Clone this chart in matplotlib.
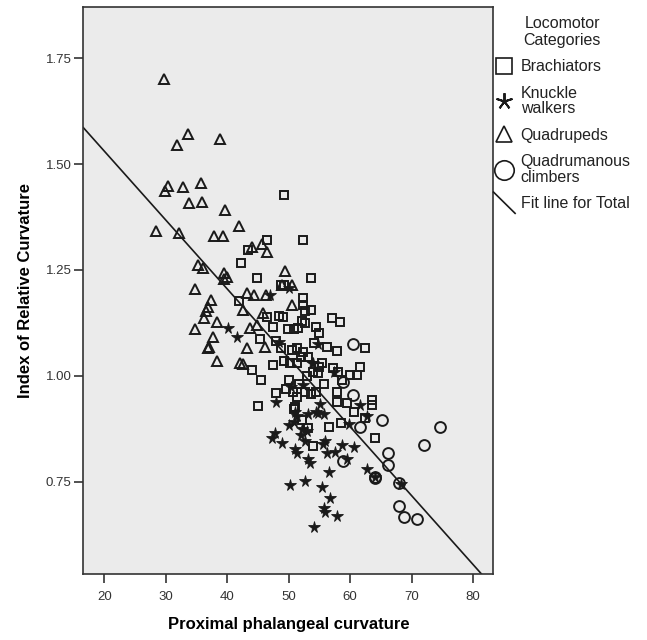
import matplotlib
matplotlib.use("Agg")
import matplotlib.pyplot as plt
from matplotlib.lines import Line2D
from matplotlib.legend_handler import HandlerBase
import numpy as np

# ---------------- data ----------------
quad_x = [29.7, 33.6, 31.8, 38.8, 30.4, 29.9, 32.8, 35.8, 33.8, 35.9, 39.6, 28.5, 32.1, 37.8, 39.3,
          42.0, 35.3, 36.1, 39.5, 39.5, 39.9, 34.75, 37.35, 36.9, 36.6, 36.2, 34.75, 38.3, 37.7, 37.0,
          36.8, 38.4, 42.1, 42.5, 43.2, 46.1, 43.7, 45.9, 42.6, 43.2, 44.1, 45.6, 46.4, 49.4, 50.5,
          50.6, 44.3, 46.3, 48.9, 44.8]
quad_y = [1.700, 1.570, 1.546, 1.560, 1.447, 1.436, 1.445, 1.455, 1.409, 1.410, 1.392, 1.343, 1.336, 1.330, 1.330,
          1.353, 1.262, 1.254, 1.242, 1.228, 1.233, 1.204, 1.179, 1.163, 1.152, 1.137, 1.110, 1.128, 1.092, 1.069,
          1.066, 1.036, 1.030, 1.028, 1.065, 1.069, 1.112, 1.148, 1.156, 1.195, 1.305, 1.310, 1.293, 1.247, 1.214,
          1.166, 1.190, 1.190, 1.214, 1.120]

brach_x = [49.2, 52.4, 46.4, 43.4, 42.2, 44.8, 53.6, 48.7, 49.3, 52.3, 52.4, 53.7, 52.6, 41.9, 46.5,
           48.4, 49.1, 47.4, 49.9, 50.9, 51.6, 52.1, 52.7, 54.5, 54.9, 57.1, 58.3, 45.4, 47.9, 48.7,
           50.5, 51.3, 54.1, 56.2, 57.9, 62.4, 47.5, 49.3, 50.3, 51.3, 52.4, 53.1, 52.0, 54.9, 54.8,
           57.2, 58.1, 60.0, 61.2, 61.6, 44.0, 45.5, 45.0, 47.9, 49.5, 50.7, 51.7, 51.4, 52.7, 53.7,
           54.4, 55.8, 57.8, 57.8, 59.5, 60.7, 63.5, 63.6, 62.5, 58.5, 51.1, 50.9, 52.1, 53.1, 56.5,
           64.0, 53.9, 58.6, 53.0, 54.0, 55.5, 50.0]
brach_y = [1.426, 1.320, 1.320, 1.297, 1.266, 1.230, 1.231, 1.214, 1.214, 1.183, 1.167, 1.156, 1.154, 1.176, 1.138,
           1.140, 1.138, 1.116, 1.110, 1.110, 1.112, 1.130, 1.125, 1.116, 1.100, 1.136, 1.126, 1.087, 1.082, 1.065,
           1.060, 1.065, 1.077, 1.069, 1.059, 1.065, 1.026, 1.035, 1.031, 1.030, 1.055, 1.045, 1.045, 1.020, 1.006,
           1.018, 1.010, 1.002, 1.002, 1.020, 1.013, 0.991, 0.928, 0.960, 0.969, 0.962, 0.980, 0.950, 0.962, 0.958,
           0.962, 0.981, 0.962, 0.938, 0.936, 0.914, 0.943, 0.932, 0.900, 0.888, 0.927, 0.922, 0.895, 0.876, 0.879,
           0.854, 0.834, 0.990, 1.000, 1.010, 1.030, 0.990]

knuck_x = [40.1, 41.6, 47.0, 50.0, 48.0, 50.4, 52.4, 55.1, 57.3, 51.1, 51.3, 50.1, 50.8, 52.1, 53.1,
           54.8, 55.8, 47.7, 47.3, 49.0, 51.1, 51.3, 52.7, 53.1, 53.5, 55.9, 55.6, 56.3, 57.5, 58.6,
           59.5, 60.6, 61.6, 62.8, 62.7, 50.3, 52.6, 55.4, 56.6, 56.8, 55.8, 55.9, 57.8, 54.2, 54.0,
           53.8, 54.7, 48.5, 53.0, 64.0, 68.2, 52.0, 54.4, 59.8]
knuck_y = [1.112, 1.091, 1.191, 1.207, 0.938, 0.974, 0.979, 0.933, 1.008, 0.914, 0.904, 0.885, 0.890, 0.875, 0.909,
           0.912, 0.909, 0.866, 0.852, 0.842, 0.828, 0.818, 0.847, 0.804, 0.794, 0.847, 0.840, 0.818, 0.820, 0.837,
           0.804, 0.833, 0.930, 0.905, 0.780, 0.743, 0.751, 0.737, 0.773, 0.711, 0.689, 0.679, 0.669, 0.643, 1.030,
           1.030, 1.075, 1.080, 0.870, 0.760, 0.745, 0.860, 0.915, 0.886]

climb_x = [60.5, 60.4, 58.8, 65.2, 61.6, 74.6, 72.1, 66.2, 66.2, 58.8, 64.1, 64.0, 68.0, 68.0, 68.7, 70.9]
climb_y = [1.075, 0.955, 0.986, 0.895, 0.880, 0.880, 0.837, 0.818, 0.789, 0.799, 0.759, 0.762, 0.746, 0.693, 0.666, 0.663]

fit_intercept = 1.856
fit_slope = -0.01627

x_ticks = [20, 30, 40, 50, 60, 70, 80]
y_ticks = [0.75, 1.00, 1.25, 1.50, 1.75]
legend_labels = ["Brachiators", "Knuckle\nwalkers", "Quadrupeds", "Quadrumanous\nclimbers", "Fit line for Total"]

# ---------------- figure ----------------
plt.rcParams['font.family'] = ['Liberation Sans', 'DejaVu Sans']
fig = plt.figure(figsize=(6.47, 6.40), dpi=100)
ax = fig.add_axes([0.1288, 0.1031, 0.6337, 0.8855])
ax.set_facecolor('#ebebeb')

XMIN, XMAX = 16.6, 83.3
YMIN, YMAX = 0.532, 1.870

ink = '#1a1a1a'
ax.plot(brach_x, brach_y, ls='none', marker='s', ms=5.3, mfc='none', mec=ink, mew=1.4)
ax.plot(quad_x, quad_y, ls='none', marker='^', ms=6.8, mfc='none', mec=ink, mew=1.4)
ax.plot(knuck_x, knuck_y, ls='none', marker='*', ms=8.5, mfc=ink, mec=ink, mew=0.6)
ax.plot(climb_x, climb_y, ls='none', marker='o', ms=7.8, mfc='none', mec=ink, mew=1.4)

xs = np.array([XMIN, XMAX])
ax.plot(xs, fit_intercept + fit_slope * xs, color=ink, lw=1.2)

ax.set_xlim(XMIN, XMAX)
ax.set_ylim(YMIN, YMAX)
ax.set_xticks(x_ticks)
ax.set_yticks(y_ticks)
ax.set_yticklabels([f"{v:.2f}" for v in y_ticks])
ax.tick_params(direction='out', length=6.5, width=1.2, color='#333333', labelsize=9.5,
               labelcolor='#333333')
ax.tick_params(axis='x', pad=6)
ax.tick_params(axis='y', pad=2)
for s in ax.spines.values():
    s.set_color('#333333')
    s.set_linewidth(1.2)

ax.set_xlabel("Proximal phalangeal curvature", fontsize=12, fontweight='bold', labelpad=10)
ax.set_ylabel("Index of Relative Curvature", fontsize=12, fontweight='bold', labelpad=9)


class DiagHandler(HandlerBase):
    def create_artists(self, legend, orig_handle, xdescent, ydescent, width, height, fontsize, trans):
        line = Line2D([-xdescent, -xdescent + width],
                      [-ydescent + height * 1.45, -ydescent - height * 0.45],
                      color=ink, lw=1.2, transform=trans)
        return [line]


class FitHandle:
    pass


handles = [
    Line2D([], [], ls='none', marker='s', ms=12, mfc='none', mec=ink, mew=1.2),
    Line2D([], [], ls='none', marker=(5, 2, 0), ms=12, mec=ink, mew=1.4),
    Line2D([], [], ls='none', marker='^', ms=11, mfc='none', mec=ink, mew=1.2),
    Line2D([], [], ls='none', marker='o', ms=14, mfc='none', mec=ink, mew=1.2),
    FitHandle(),
]
leg = ax.legend(handles, legend_labels, title="Locomotor\nCategories",
                loc='upper left', bbox_to_anchor=(0.981, 0.998), frameon=False,
                fontsize=11.5, title_fontsize=11.5, handlelength=1.35, handletextpad=0.35,
                labelspacing=0.72, borderpad=0.5, borderaxespad=0.0,
                handler_map={FitHandle: DiagHandler()})
leg.get_title().set_multialignment('center')
leg.get_title().set_linespacing(1.1)
leg.get_title().set_color('#222222')
for t in leg.get_texts():
    t.set_color('#222222')
    t.set_linespacing(1.05)

fig.savefig("out.png", dpi=100)
